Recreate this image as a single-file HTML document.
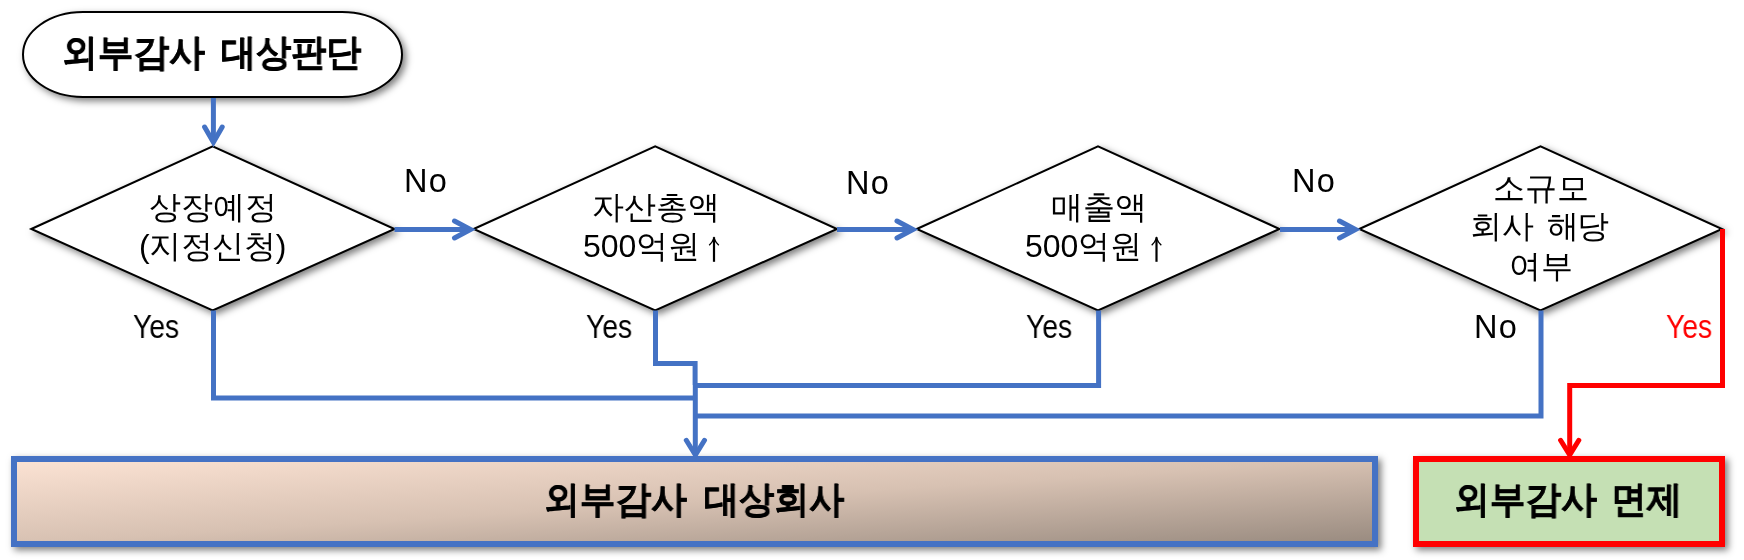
<!DOCTYPE html>
<html>
<head>
<meta charset="utf-8">
<style>
html,body{margin:0;padding:0;background:#fff;}
body{width:1744px;height:560px;position:relative;overflow:hidden;font-family:"Liberation Sans",sans-serif;color:#000;}
svg{position:absolute;left:0;top:0;}
.t{position:absolute;white-space:nowrap;line-height:1;will-change:transform;}
.k{font-size:32px;}
.b{font-weight:bold;font-size:37px;-webkit-text-stroke:0.45px #000;}
.lbl{font-size:32.5px;letter-spacing:1.4px;}
.y{letter-spacing:0;transform:scaleX(0.87);transform-origin:0 0;}
</style>
</head>
<body>
<svg width="1744" height="560" viewBox="0 0 1744 560">
<defs>
<filter id="sh" x="-10%" y="-10%" width="130%" height="140%">
<feDropShadow dx="3.2" dy="3.2" stdDeviation="3.6" flood-color="#000" flood-opacity="0.5"/>
</filter>
<linearGradient id="g1" x1="0" y1="0" x2="1" y2="1">
<stop offset="0" stop-color="#fce3d4"/>
<stop offset="0.5" stop-color="#d7c1b2"/>
<stop offset="1" stop-color="#988a7f"/>
</linearGradient>
</defs>
<!-- terminator -->
<rect x="23" y="12" width="379" height="85" rx="60" ry="42.5" fill="#fff" stroke="#000" stroke-width="2" filter="url(#sh)"/>
<!-- diamonds -->
<g fill="#fff" stroke="#000" stroke-width="2" filter="url(#sh)">
<polygon points="31.3,229 212.7,146.4 394.5,229 212.7,310.5"/>
<polygon points="473.7,229 655.2,146.4 837,229 655.2,310.5"/>
<polygon points="916.8,229 1098,146.4 1279.5,229 1098,310.5"/>
<polygon points="1359.3,229 1540.5,146.4 1722,229 1540.5,310.5"/>
</g>
<!-- bottom boxes -->
<rect x="14" y="459" width="1361" height="85" fill="url(#g1)" stroke="#4472c4" stroke-width="6" filter="url(#sh)"/>
<rect x="1416" y="459" width="306" height="85" fill="#c5e0b4" stroke="#f00" stroke-width="6" filter="url(#sh)"/>
<!-- blue connectors -->
<g fill="none" stroke="#4472c4" stroke-width="5" stroke-linejoin="miter" stroke-linecap="butt">
<line x1="213.4" y1="98" x2="213.4" y2="142"/>
<line x1="394.5" y1="229.5" x2="470" y2="229.5"/>
<line x1="837" y1="229.5" x2="913" y2="229.5"/>
<line x1="1280" y1="229.5" x2="1355.5" y2="229.5"/>
<polyline points="213.5,310.5 213.5,398 695.3,398"/>
<polyline points="655.5,310.5 655.5,363.5 695.1,363.5 695.1,385"/>
<polyline points="695.3,385 695.3,453"/>
<polyline points="1098.6,310.5 1098.6,385.4 695.3,385.4"/>
<polyline points="1541,310.5 1541,416 695.3,416"/>
</g>
<g fill="none" stroke="#4472c4" stroke-width="5" stroke-linejoin="miter" stroke-linecap="round">
<polyline points="204.6,127 213.4,142.2 222.2,127"/>
<polyline points="454.5,221 470.5,229.5 454.5,238"/>
<polyline points="897,221 913,229.5 897,238"/>
<polyline points="1339.5,221 1355.5,229.5 1339.5,238"/>
<polyline points="686.3,440.3 695.4,455 704.5,440.3"/>
</g>
<!-- up arrows -->
<g fill="none" stroke="#000" stroke-linecap="butt">
<line x1="714" y1="237.2" x2="714" y2="261.8" stroke-width="2.2"/>
<path d="M709.2,245.2 Q712.6,242.2 714,238.3 Q715.4,242.2 718.8,245.2" stroke-width="1.4"/>
<line x1="1156.5" y1="237.2" x2="1156.5" y2="261.8" stroke-width="2.2"/>
<path d="M1151.7,245.2 Q1155.1,242.2 1156.5,238.3 Q1157.9,242.2 1161.3,245.2" stroke-width="1.4"/>
</g>
<!-- red connector -->
<g fill="none" stroke="#f00" stroke-width="5" stroke-linejoin="miter">
<polyline points="1722.5,229 1722.5,385.5 1569.7,385.5 1569.7,454"/>
<polyline points="1560.6,440.3 1569.7,455 1578.8,440.3" stroke-linecap="round" stroke-width="5"/>
</g>
</svg>

<div class="t b" style="left:62px;top:33.5px;transform:scaleX(0.966);transform-origin:0 0;">외부감사</div>
<div class="t b" style="left:221px;top:33.5px;transform:scaleX(0.948);transform-origin:0 0;">대상판단</div>

<div class="t k" style="left:149px;top:191px;">상장예정</div>
<div class="t k" style="left:139px;top:230px;letter-spacing:-0.4px;">(지정신청)</div>
<div class="t k" style="left:592px;top:191px;">자산총액</div>
<div class="t k" style="left:582.5px;top:230px;">500억원</div>
<div class="t k" style="left:1050.5px;top:191px;">매출액</div>
<div class="t k" style="left:1025px;top:230px;">500억원</div>
<div class="t k" style="left:1492.5px;top:172px;">소규모</div>
<div class="t k" style="left:1470px;top:210px;">회사</div>
<div class="t k" style="left:1547px;top:210px;letter-spacing:-1.8px;">해당</div>
<div class="t k" style="left:1509px;top:250px;">여부</div>

<div class="t lbl" style="left:403.5px;top:165px;">No</div>
<div class="t lbl" style="left:846px;top:167px;">No</div>
<div class="t lbl" style="left:1291.5px;top:165px;">No</div>
<div class="t lbl y" style="left:133px;top:311px;">Yes</div>
<div class="t lbl y" style="left:585.5px;top:311px;">Yes</div>
<div class="t lbl y" style="left:1026px;top:311px;">Yes</div>
<div class="t lbl" style="left:1474px;top:310.5px;">No</div>
<div class="t lbl y" style="left:1666px;top:311px;color:#f00;">Yes</div>

<div class="t b" style="left:544px;top:480.5px;transform:scaleX(0.966);transform-origin:0 0;">외부감사</div>
<div class="t b" style="left:703.5px;top:480.5px;transform:scaleX(0.948);transform-origin:0 0;">대상회사</div>
<div class="t b" style="left:1453.7px;top:481px;transform:scaleX(0.966);transform-origin:0 0;">외부감사</div>
<div class="t b" style="left:1611.4px;top:481px;transform:scaleX(0.962);transform-origin:0 0;">면제</div>
</body>
</html>
